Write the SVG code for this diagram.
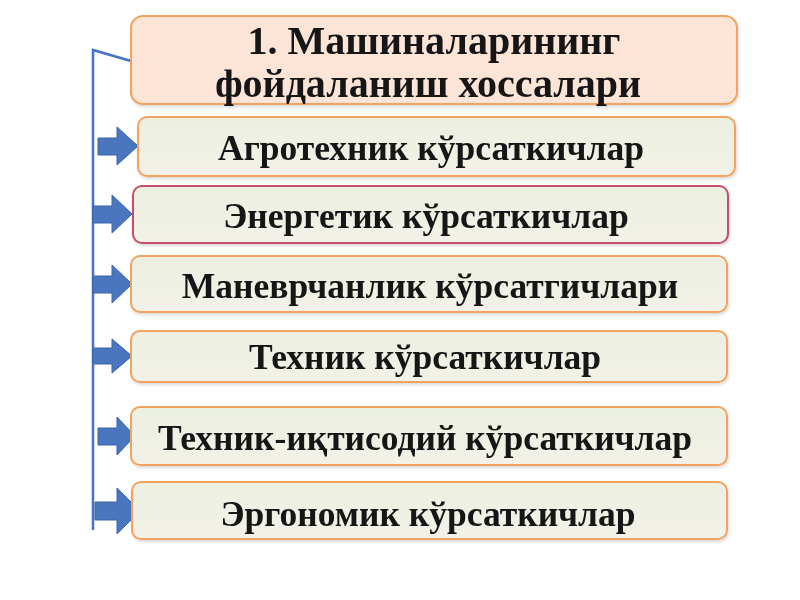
<svg xmlns="http://www.w3.org/2000/svg" width="800" height="600" viewBox="0 0 800 600">
<defs>
<style>
.t{font-family:"Liberation Serif","Times New Roman",serif;font-weight:bold;fill:#141414;text-anchor:middle}
.ti{font-size:40px}
.it{font-size:35.5px}
.box{fill:url(#g);stroke:#F2A35E;stroke-width:2}
.arr{fill:#4A76BF;stroke:#3A64A8;stroke-width:1}
</style>
<linearGradient id="g" x1="0" y1="0" x2="0" y2="1">
<stop offset="0" stop-color="#EBF0E0"/>
<stop offset="1" stop-color="#F3F1E8"/>
</linearGradient>
<filter id="sh" x="-5%" y="-10%" width="110%" height="130%">
<feDropShadow dx="1" dy="2" stdDeviation="1.5" flood-color="#000" flood-opacity="0.15"/>
</filter>
</defs>
<rect width="800" height="600" fill="#fff"/>
<g id="connectors">
<polyline points="131,61 93,50 93,530" fill="none" stroke="#4472C4" stroke-width="2.5"/>
<polygon class="arr" points="98,138 117,138 117,127 138,146 117,165 117,155 98,155"/>
<polygon class="arr" points="93,206 112,206 112,195 132,214 112,233 112,223 93,223"/>
<polygon class="arr" points="93,276 112,276 112,265 132,284 112,303 112,293 93,293"/>
<polygon class="arr" points="93,348 112,348 112,339 132,356 112,373 112,364 93,364"/>
<polygon class="arr" points="98,428 117,428 117,417 135,436 117,455 117,445 98,445"/>
<polygon class="arr" points="95,502 117,502 117,488 140,511 117,534 117,520 95,520"/>
</g>
<g id="title" filter="url(#sh)">
<rect x="131" y="16" width="606" height="88" rx="12" fill="#FCE5D7" stroke="#F2A35E" stroke-width="2"/>
<text class="t ti" x="434" y="54">1. Машиналарининг</text>
<text class="t ti" x="428" y="97">фойдаланиш хоссалари</text>
</g>
<g id="n1" filter="url(#sh)">
<rect class="box" x="138" y="117" width="597" height="59" rx="9"/>
<text class="t it" x="431" y="160">Агротехник кўрсаткичлар</text>
</g>
<g id="n2" filter="url(#sh)">
<rect class="box" x="133" y="186" width="595" height="57" rx="9" style="stroke:#C4506A"/>
<text class="t it" x="426" y="228">Энергетик кўрсаткичлар</text>
</g>
<g id="n3" filter="url(#sh)">
<rect class="box" x="131" y="256" width="596" height="56" rx="9"/>
<text class="t it" x="430" y="298">Маневрчанлик кўрсатгичлари</text>
</g>
<g id="n4" filter="url(#sh)">
<rect class="box" x="131" y="331" width="596" height="51" rx="9"/>
<text class="t it" x="425" y="369">Техник кўрсаткичлар</text>
</g>
<g id="n5" filter="url(#sh)">
<rect class="box" x="131" y="407" width="596" height="58" rx="9"/>
<text class="t it" x="425" y="450">Техник-иқтисодий кўрсаткичлар</text>
</g>
<g id="n6" filter="url(#sh)">
<rect class="box" x="132" y="482" width="595" height="57" rx="9"/>
<text class="t it" x="428" y="526">Эргономик кўрсаткичлар</text>
</g>
</svg>
